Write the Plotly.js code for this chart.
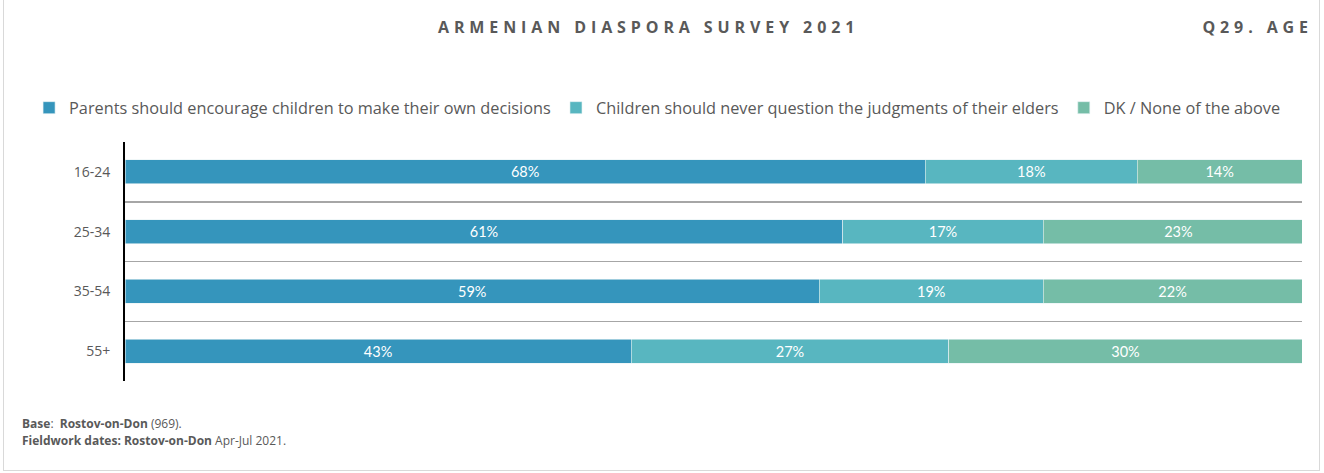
<!DOCTYPE html>
<html>
<head>
<meta charset="utf-8">
<script src="https://cdn.plot.ly/plotly-3.0.1.min.js"></script>
<style>
  html, body { margin: 0; padding: 0; background: #fff; }
  #wrap { position: absolute; left: 0; top: 0; width: 1324px; height: 473px; }
  #frame { position: absolute; left: 3px; top: -2px; width: 1317px; height: 473px; border: 1px solid #d9d9d9; box-sizing: border-box; pointer-events: none; }
  #chart { position: absolute; left: 0; top: 0; width: 1324px; height: 473px; }
</style>
</head>
<body>
<div id="wrap">
  <div id="chart"></div>
  <div id="frame"></div>
</div>
<script>
const categories = ["16-24", "25-34", "35-54", "55+"];
const seriesNames = [
  "Parents should encourage children to make their own decisions",
  "Children should never question the judgments of their elders",
  "DK / None of the above"
];
const parentsEncourage = [68, 61, 59, 43];
const childrenNeverQuestion = [18, 17, 19, 27];
const dkNone = [14, 23, 22, 30];
const seriesColors = ["#3595bc", "#58b6c0", "#75bda7"];

const seriesValues = [parentsEncourage, childrenNeverQuestion, dkNone];

const traces = seriesValues.map((vals, i) => ({
  type: "bar",
  orientation: "h",
  name: seriesNames[i],
  y: categories,
  x: vals,
  text: vals.map(v => v + "%"),
  textposition: "inside",
  insidetextanchor: "middle",
  textangle: 0,
  textfont: { family: "Lato, sans-serif", size: 14.5, color: "#ffffff" },
  marker: { color: seriesColors[i], line: { color: "#e6f2f4", width: 0.6 } },
  width: 0.4,
  hoverinfo: "skip"
}));

const fontGrey = "#595959";

const layout = {
  width: 1324,
  height: 473,
  margin: { l: 125, r: 22, t: 142, b: 92 },
  paper_bgcolor: "rgba(0,0,0,0)",
  plot_bgcolor: "#ffffff",
  barmode: "stack",
  showlegend: true,
  legend: {
    orientation: "h",
    x: -0.0815, xref: "paper", xanchor: "left",
    y: 1.142, yanchor: "middle",
    font: { family: "Open Sans, sans-serif", size: 16.3, color: fontGrey },
    traceorder: "normal",
    itemwidth: 30,
    tracegroupgap: 0
  },
  xaxis: {
    range: [0, 100],
    showgrid: false,
    zeroline: false,
    showticklabels: false,
    showline: false,
    fixedrange: true
  },
  yaxis: {
    type: "category",
    categoryorder: "array",
    categoryarray: categories,
    range: [3.5, -0.5],
    tickson: "boundaries",
    ticks: "",
    showgrid: true,
    gridcolor: "#a6a6a6",
    gridwidth: 1.5,
    showline: true,
    linecolor: "#000000",
    linewidth: 2,
    zeroline: false,
    ticklabelstandoff: 10,
    tickfont: { family: "Open Sans, sans-serif", size: 14, color: fontGrey },
    fixedrange: true
  },
  annotations: [
    {
      text: "<b>ARMENIAN DIASPORA SURVEY 2021</b>",
      xref: "paper", yref: "paper",
      x: 0.445, y: 1.481, xanchor: "center", yanchor: "middle",
      showarrow: false,
      font: { family: "Open Sans, sans-serif", size: 16, color: fontGrey }
    },
    {
      text: "<b>Q29. AGE</b>",
      xref: "paper", yref: "paper",
      x: 0.962, y: 1.481, xanchor: "center", yanchor: "middle",
      showarrow: false,
      font: { family: "Open Sans, sans-serif", size: 16, color: fontGrey }
    },
    {
      text: "<b>Base</b>:  <b>Rostov-on-Don</b> (969).",
      xref: "paper", yref: "paper",
      x: -0.089, y: -0.176, xanchor: "left", yanchor: "middle",
      showarrow: false,
      font: { family: "Open Sans, sans-serif", size: 12, color: fontGrey }
    },
    {
      text: "<b>Fieldwork dates: Rostov-on-Don</b> Apr-Jul 2021.",
      xref: "paper", yref: "paper",
      x: -0.089, y: -0.247, xanchor: "left", yanchor: "middle",
      showarrow: false,
      font: { family: "Open Sans, sans-serif", size: 12, color: fontGrey }
    }
  ]
};

Plotly.newPlot("chart", traces, layout, { displayModeBar: false, staticPlot: true }).then(() => {
  const ann = document.querySelectorAll(".annotation-text");
  if (ann[0]) ann[0].style.letterSpacing = "4.9px";
  if (ann[1]) ann[1].style.letterSpacing = "4.9px";
});
</script>
</body>
</html>
